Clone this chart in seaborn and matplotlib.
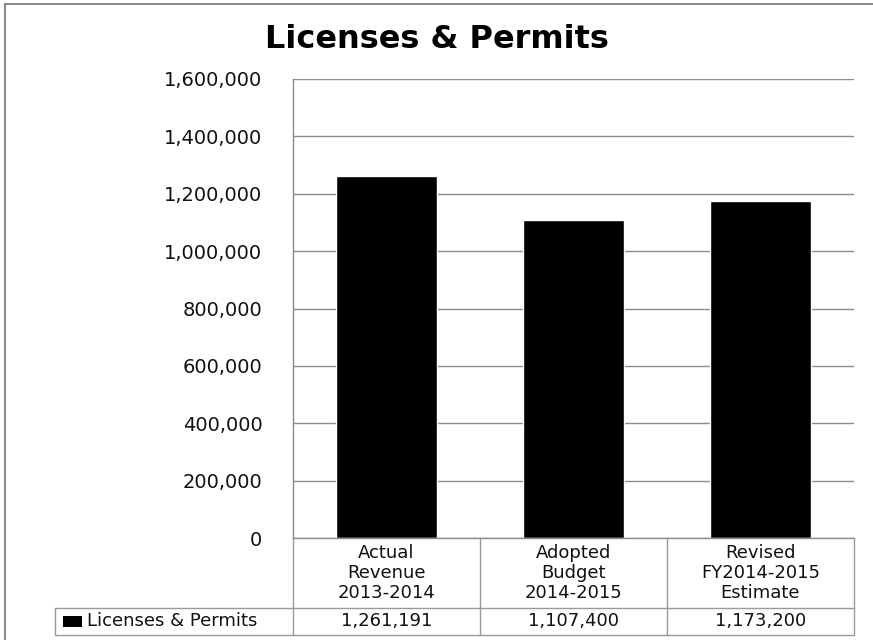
import matplotlib
matplotlib.use("Agg")
import matplotlib.pyplot as plt
from matplotlib.lines import Line2D
from matplotlib.patches import Rectangle
from matplotlib.ticker import FuncFormatter, MultipleLocator
import pandas as pd
import seaborn as sns

# Chart data
title = "Licenses & Permits"
series_name = "Licenses & Permits"
categories = ["Actual\nRevenue\n2013-2014", "Adopted\nBudget\n2014-2015", "Revised\nFY2014-2015\nEstimate"]
values = [1261191, 1107400, 1173200]
value_labels = ["1,261,191", "1,107,400", "1,173,200"]

df = pd.DataFrame({"category": categories, "amount": values})

sns.set_theme(style="white")
plt.rcParams["font.family"] = ["DejaVu Sans"]

W, H = 873, 640
fig = plt.figure(figsize=(W / 100, H / 100), dpi=100)
fig.patch.set_facecolor("white")

# plot area in pixel terms
left_px, right_px, top_px, bottom_px = 293, 854, 79, 538
ax = fig.add_axes([left_px / W, 1 - bottom_px / H,
                   (right_px - left_px) / W, (bottom_px - top_px) / H])

sns.barplot(data=df, x="category", y="amount", color="black",
            saturation=1, width=0.535, ax=ax)

ax.set_xlim(-0.5, len(categories) - 0.5)
ax.set_ylim(0, 1600000)
ax.yaxis.set_major_locator(MultipleLocator(200000))
ax.yaxis.set_major_formatter(FuncFormatter(lambda v, p: f"{v:,.0f}"))
ax.set_xlabel("")
ax.set_ylabel("")
ax.set_xticks([])
ax.tick_params(axis="y", length=0, pad=22, labelsize=14, labelcolor="#111111")
ax.yaxis.grid(True, color="#8c8c8c", linewidth=1)
ax.set_axisbelow(True)
for side in ["top", "right"]:
    ax.spines[side].set_visible(False)
for side in ["left", "bottom"]:
    ax.spines[side].set_color("#8c8c8c")
    ax.spines[side].set_linewidth(1)

fig.text(0.5, 1 - 40 / H, title, ha="center", va="center",
         fontsize=23, fontweight="bold", color="black")

# data table beneath the plot area
axh = bottom_px - top_px
axw = right_px - left_px
hdr_bot = -(608 - bottom_px) / axh
tbl_bot = -(635 - bottom_px) / axh
lab_left = (55 - left_px) / axw
line_kw = dict(color="#9a9a9a", linewidth=1, clip_on=False, transform=ax.transAxes)

n = len(categories)
for i in range(n + 1):
    x = i / n
    ax.plot([x, x], [0, tbl_bot], **line_kw)
ax.plot([lab_left, 1], [hdr_bot, hdr_bot], **line_kw)
ax.plot([lab_left, 1], [tbl_bot, tbl_bot], **line_kw)
ax.plot([lab_left, lab_left], [hdr_bot, tbl_bot], **line_kw)

xt = ax.get_xaxis_transform()
hdr_mid = -(573 - bottom_px) / axh
row_mid = -(621.5 - bottom_px) / axh
for i, (cat, lab) in enumerate(zip(categories, value_labels)):
    ax.text(i, hdr_mid, cat, transform=xt, ha="center", va="center",
            fontsize=13, color="#111111", linespacing=1.12, clip_on=False)
    ax.text(i, row_mid, lab, transform=xt, ha="center", va="center",
            fontsize=13, color="#111111", clip_on=False)

# legend key and series name in the row header
key_h = 11 / axh
ax.add_patch(Rectangle(((63 - left_px) / axw, row_mid - key_h / 2),
                       19 / axw, key_h, transform=ax.transAxes,
                       facecolor="black", edgecolor="none", clip_on=False))
ax.text((87 - left_px) / axw, row_mid, series_name, transform=ax.transAxes,
        ha="left", va="center", fontsize=13, color="#111111", clip_on=False)

# outer chart frame
frame_kw = dict(color="#8a8a8a", linewidth=1.5, transform=fig.transFigure)
fig.add_artist(Line2D([5 / W, 1], [1 - 4 / H, 1 - 4 / H], **frame_kw))
fig.add_artist(Line2D([5 / W, 5 / W], [0, 1 - 4 / H], **frame_kw))

fig.savefig("out.png", dpi=100, facecolor="white")
